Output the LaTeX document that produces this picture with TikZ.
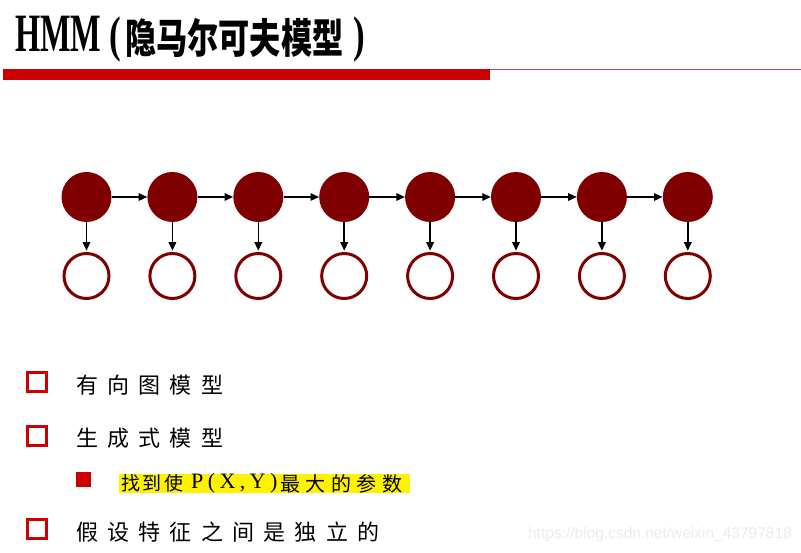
\documentclass[tikz,border=0pt]{standalone}
\usepackage{fontspec}
\usepackage{graphicx}
\setmainfont{Liberation Serif}
\newfontfamily\cjk{Noto Sans CJK SC}
\newfontfamily\cjksp{Noto Sans CJK SC}[LetterSpace=42]
\newfontfamily\cjkspa{Noto Sans CJK SC}[LetterSpace=13]
\newfontfamily\cjkspb{Noto Sans CJK SC}[LetterSpace=28]
\newfontfamily\serifsp{Liberation Serif}[LetterSpace=20]
\newfontfamily\wmfont{Liberation Sans}
\usetikzlibrary{arrows.meta}
\definecolor{dred}{RGB}{128,0,0}
\definecolor{bred}{RGB}{204,0,0}
\definecolor{lred}{RGB}{195,70,70}
\tikzset{
  hid/.style={circle, fill=dred, draw=none, minimum size=50pt, inner sep=0pt},
  obs/.style={circle, draw=dred, line width=3pt, fill=white, minimum size=45pt, inner sep=0pt},
  arr/.style={-{Triangle[length=8.5pt,width=7.5pt]}, line width=1.5pt, black},
  hsq/.style={draw=bred, line width=2.5pt, minimum size=19pt, inner sep=0pt},
  fsq/.style={fill=bred, minimum size=15pt, inner sep=0pt},
  bul/.style={anchor=west, inner sep=0pt, font=\fontsize{22}{22}\selectfont\cjksp},
  sub/.style={anchor=west, inner sep=0pt},
  txt/.style={anchor=base west, inner sep=0pt}
}
\begin{document}
\begin{tikzpicture}[x=1pt,y=-1pt]
\useasboundingbox (0,0) rectangle (801,553);
\fill[white] (0,0) rectangle (801,553);
% title
\node[txt] (hmm) at (15,52) {\scalebox{0.6}[1]{\fontsize{54}{54}\selectfont\bfseries HMM}};
\node[txt] (lp) at (109,52) {\scalebox{0.7}[1]{\fontsize{50}{50}\selectfont\bfseries (}};
\node[txt] (tcjk) at (125,54) {\scalebox{0.76}[1]{\fontsize{41}{41}\selectfont\cjk\bfseries 隐马尔可夫模型}};
\node[txt] (rp) at (353,52) {\scalebox{0.7}[1]{\fontsize{50}{50}\selectfont\bfseries )}};
% bar
\draw[lred, line width=0.8pt] (3,69.4) -- (801,69.4);
\fill[bred] (3,69) rectangle (490,80);
% chain
\foreach \i in {0,...,7}{
  \node[hid] (h\i) at ({86.5+85.9*\i},197) {};
  \node[obs] (o\i) at ({86.5+85.9*\i},276) {};
  \draw[arr, shorten >=1.3pt] (h\i) -- (o\i);
}
\foreach \i [evaluate=\i as \j using int(\i+1)] in {0,...,6}{
  \draw[arr] (h\i) -- (h\j);
}
% bullets
\node[hsq] (b1) at (37,382) {};
\node[bul] (t1) at (76,385) {有向图模型};
\node[hsq] (b2) at (37,436) {};
\node[bul] (t2) at (76,438) {生成式模型};
\node[fsq] (b3) at (83,479) {};
\fill[yellow] (119,474) rectangle (410,493);
\node[sub, font=\fontsize{19}{19}\selectfont\cjkspa] (t3a) at (121,483.5) {找到使};
\node[sub, font=\fontsize{22}{22}\selectfont\serifsp] (t3b) at (191,483.5) {P(X,Y)};
\node[sub, font=\fontsize{20}{20}\selectfont\cjkspb] (t3c) at (280,483.5) {最大的参数};
\node[hsq] (b4) at (37,529) {};
\node[bul] (t4) at (76,532) {假设特征之间是独立的};
% watermark
\node[anchor=east, inner sep=0pt, text=gray!15, font=\fontsize{15.5}{15.5}\selectfont\wmfont] (wm) at (792,534) {https://blog.csdn.net/weixin\_43797818};
\end{tikzpicture}
\end{document}
